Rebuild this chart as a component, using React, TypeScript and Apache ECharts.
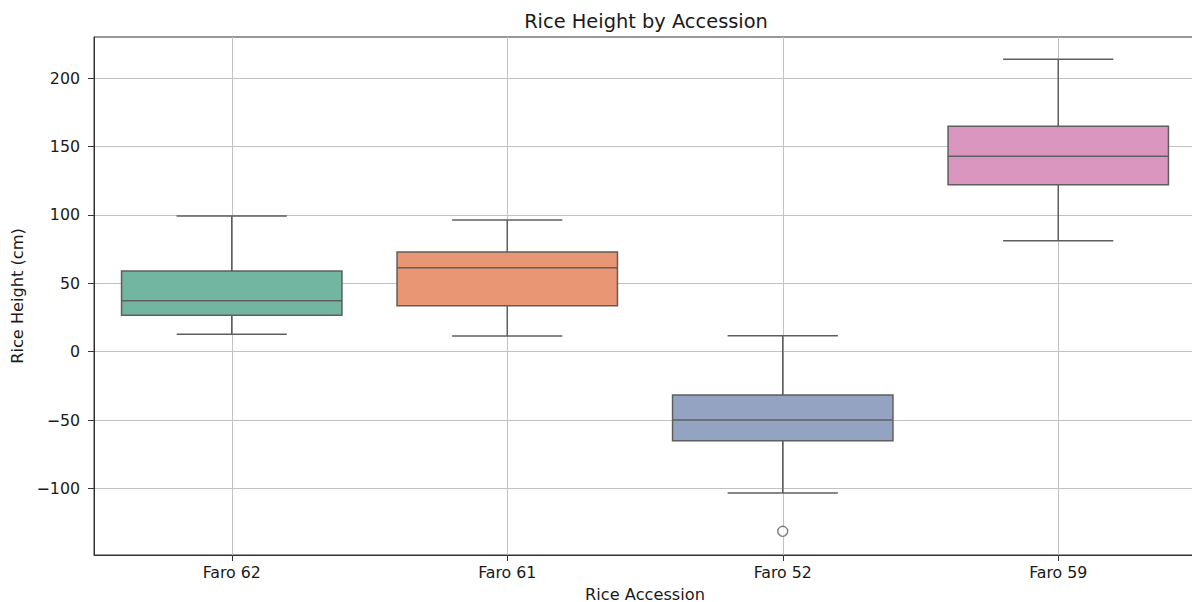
import React, { useEffect, useRef } from "react";
import * as echarts from "echarts";

const categories = ["Faro 62", "Faro 61", "Faro 52", "Faro 59"];
const whiskerLow = [12.7, 11.5, -103.3, 81.1];
const q1 = [26.6, 33.6, -65.1, 122.1];
const median = [37.3, 61.4, -49.9, 142.8];
const q3 = [59.0, 72.9, -31.7, 164.8];
const whiskerHigh = [99.2, 96.3, 11.7, 213.7];
const outlierCategories = ["Faro 52"];
const outlierValues = [-131.3];
const yTickValues = [-100, -50, 0, 50, 100, 150, 200];
const boxColors = ["#72b6a1", "#e99675", "#95a3c3", "#db96c0"];

const FONT = "DejaVu Sans";
const LINE = "#5e5e5e";
const TEXT = "#1a1a1a";
const GRIDC = "#c2c2c2";

export default function App() {
  const ref = useRef<HTMLDivElement>(null);
  useEffect(() => {
    if (!ref.current) return;
    const chart = echarts.init(ref.current, null, { renderer: "svg" });
    const boxData = categories.map((_, i) => [i, whiskerLow[i], q1[i], median[i], q3[i], whiskerHigh[i]]);
    const outlierData = outlierCategories.map((c, i) => [categories.indexOf(c), outlierValues[i]]);
    chart.setOption({
      animation: false,
      backgroundColor: "#ffffff",
      title: {
        text: "Rice Height by Accession",
        left: 641,
        textAlign: "center",
        top: 7,
        textStyle: { fontFamily: FONT, fontSize: 19.4, fontWeight: "normal", color: TEXT },
      },
      grid: {
        left: 94,
        right: -4,
        top: 37,
        bottom: 47,
        show: true,
        borderColor: "#333333",
        borderWidth: 1,
        containLabel: false,
        outerBoundsMode: "none",
      },
      xAxis: {
        type: "category",
        data: categories,
        boundaryGap: true,
        name: "Rice Accession",
        nameLocation: "middle",
        nameGap: 31,
        nameTextStyle: { fontFamily: FONT, fontSize: 16.2, color: TEXT },
        axisLine: { show: true, onZero: false, lineStyle: { color: "#333333", width: 1 } },
        axisTick: { show: true, alignWithLabel: true, length: 6, lineStyle: { color: "#333333" } },
        axisLabel: { margin: 9, fontFamily: FONT, fontSize: 15.8, color: TEXT },
        splitLine: { show: true, alignWithLabel: true, lineStyle: { color: GRIDC, width: 1 } },
      },
      yAxis: {
        type: "value",
        min: -148.6,
        max: 230,
        splitNumber: 8,
        name: "Rice Height (cm)",
        nameLocation: "middle",
        nameGap: 67,
        nameRotate: 90,
        nameTextStyle: { fontFamily: FONT, fontSize: 16.2, color: TEXT },
        axisLine: { show: true, lineStyle: { color: "#333333", width: 1 } },
        axisTick: { show: true, length: 6, customValues: yTickValues, lineStyle: { color: "#333333" } },
        axisLabel: {
          margin: 14,
          customValues: yTickValues,
          fontFamily: FONT,
          fontSize: 15.8,
          color: TEXT,
          formatter: (v: number) => String(v).replace("-", "\u2212"),
        },
        splitLine: { show: true, lineStyle: { color: GRIDC, width: 1 } },
      },
      series: [
        {
          type: "custom",
          data: boxData,
          encode: { x: 0, y: [1, 2, 3, 4, 5] },
          renderItem: (params: any, api: any) => {
            const idx = api.value(0);
            const band = api.size([1, 0])[0];
            const boxW = band * 0.8;
            const capW = boxW * 0.5;
            const pLow = api.coord([idx, api.value(1)]);
            const pQ1 = api.coord([idx, api.value(2)]);
            const pMed = api.coord([idx, api.value(3)]);
            const pQ3 = api.coord([idx, api.value(4)]);
            const pHigh = api.coord([idx, api.value(5)]);
            const cx = pMed[0];
            const lineStyle = { stroke: LINE, lineWidth: 1.5, fill: null };
            return {
              type: "group",
              children: [
                { type: "line", shape: { x1: cx, y1: pQ1[1], x2: cx, y2: pLow[1] }, style: lineStyle },
                { type: "line", shape: { x1: cx, y1: pQ3[1], x2: cx, y2: pHigh[1] }, style: lineStyle },
                { type: "line", shape: { x1: cx - capW / 2, y1: pLow[1], x2: cx + capW / 2, y2: pLow[1] }, style: lineStyle },
                { type: "line", shape: { x1: cx - capW / 2, y1: pHigh[1], x2: cx + capW / 2, y2: pHigh[1] }, style: lineStyle },
                {
                  type: "rect",
                  shape: { x: cx - boxW / 2, y: pQ3[1], width: boxW, height: pQ1[1] - pQ3[1] },
                  style: { fill: boxColors[idx], stroke: LINE, lineWidth: 1.5 },
                },
                { type: "line", shape: { x1: cx - boxW / 2, y1: pMed[1], x2: cx + boxW / 2, y2: pMed[1] }, style: lineStyle },
              ],
            };
          },
          z: 3,
        },
        {
          type: "scatter",
          data: outlierData,
          symbol: "circle",
          symbolSize: 10,
          itemStyle: { color: "#ffffff", borderColor: LINE, borderWidth: 1.4 },
          z: 4,
        },
      ],
    });
    return () => chart.dispose();
  }, []);
  return <div ref={ref} style={{ position: "fixed", left: 0, top: 0, width: 1192, height: 602 }} />;
}
